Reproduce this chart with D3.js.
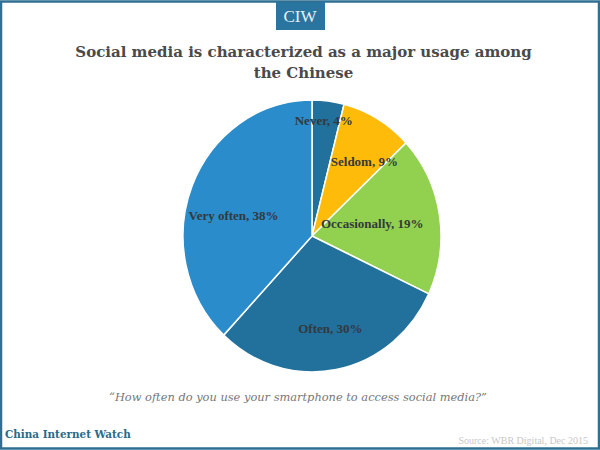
<!DOCTYPE html>
<html>
<head>
<meta charset="utf-8">
<script src="https://cdn.jsdelivr.net/npm/d3@7/dist/d3.min.js"></script>
<style>
 html, body { margin: 0; padding: 0; background: #fff; }
 svg { display: block; }
</style>
</head>
<body>
<svg id="graph"></svg>
<script>
const categories = ["Never", "Seldom", "Occasionally", "Often", "Very often"];
const shares = [4, 9, 19, 30, 38];
const sliceColors = ["#22709c", "#ffbb0a", "#92d14f", "#22709c", "#2a8ccb"];
const titleLines = ["Social media is characterized as a major usage among", "the Chinese"];
const question = "\u201cHow often do you use your smartphone to access social media?\u201d";

let width = 600;
let height = 450;

let svg = d3.select("#graph")
 .attr("width", width)
 .attr("height", height);

const serif = "'Liberation Serif', serif";

// frame
svg.append("rect")
 .attr("x", 1).attr("y", 1.5)
 .attr("width", width - 2).attr("height", height - 3)
 .attr("fill", "none")
 .attr("stroke", "#2f6f91")
 .attr("stroke-width", 2.5);

// badge on top
svg.append("rect")
 .attr("x", 276).attr("y", 2)
 .attr("width", 49).attr("height", 28)
 .attr("fill", "#2a759f");
svg.append("text")
 .attr("x", 300).attr("y", 22)
 .attr("text-anchor", "middle")
 .attr("font-family", serif)
 .attr("font-size", 17)
 .attr("fill", "#e6f0f5")
 .text("CIW");

// title
svg.selectAll(".title")
 .data(titleLines)
 .enter()
 .append("text")
 .attr("class", "title")
 .attr("x", 303.5)
 .attr("y", (d, i) => 57 + i * 21)
 .attr("text-anchor", "middle")
 .attr("font-family", "'DejaVu Serif', serif")
 .attr("font-weight", "bold")
 .attr("font-size", 15)
 .attr("fill", "#4a4a4a")
 .text(d => d);

// pie is slightly taller than wide in the picture
let radius = 129;
let pieG = svg.append("g")
 .attr("transform", "translate(312,236) scale(1,1.054)");

let pie = d3.pie().sort(null).value(d => d);
let arc = d3.arc().innerRadius(0).outerRadius(radius);

let arcs = pie(shares);

pieG.selectAll("path")
 .data(arcs)
 .enter()
 .append("path")
 .attr("d", arc)
 .attr("fill", (d, i) => sliceColors[i])
 .attr("stroke", "#fff")
 .attr("stroke-width", 1.5);

// labels sit on their slice, then nudged to where the reference has them
const labelRadius = [0.85, 0.63, 0.63, 0.72, 0.6];
const labelDx = [-2, 11, -20, 1, -6.5];
const labelDy = [0, 0, 1, -3, 10];
svg.selectAll(".label")
 .data(arcs)
 .enter()
 .append("text")
 .attr("class", "label")
 .attr("x", (d, i) => {
  let a = (d.startAngle + d.endAngle) / 2;
  return 312 + Math.sin(a) * radius * labelRadius[i] + labelDx[i];
 })
 .attr("y", (d, i) => {
  let a = (d.startAngle + d.endAngle) / 2;
  return 236 - Math.cos(a) * radius * 1.054 * labelRadius[i] + 4 + labelDy[i];
 })
 .attr("text-anchor", "middle")
 .attr("font-family", serif)
 .attr("font-weight", "bold")
 .attr("font-size", 13)
 .attr("fill", "#33393c")
 .text((d, i) => categories[i] + ", " + shares[i] + "%");

// question under the pie
svg.append("text")
 .attr("x", 298).attr("y", 401)
 .attr("text-anchor", "middle")
 .attr("font-family", "'DejaVu Serif', serif")
 .attr("font-style", "italic")
 .attr("font-size", 11.4)
 .attr("fill", "#777")
 .text(question);

// footer
svg.append("text")
 .attr("x", 5).attr("y", 438)
 .attr("font-family", "'DejaVu Serif', serif")
 .attr("font-weight", "bold")
 .attr("font-size", 10.4)
 .attr("fill", "#2a6a8a")
 .text("China Internet Watch");

svg.append("text")
 .attr("x", 588).attr("y", 444)
 .attr("text-anchor", "end")
 .attr("font-family", serif)
 .attr("font-size", 10)
 .attr("fill", "#c8c8c8")
 .text("Source: WBR Digital,  Dec 2015");
</script>
</body>
</html>
